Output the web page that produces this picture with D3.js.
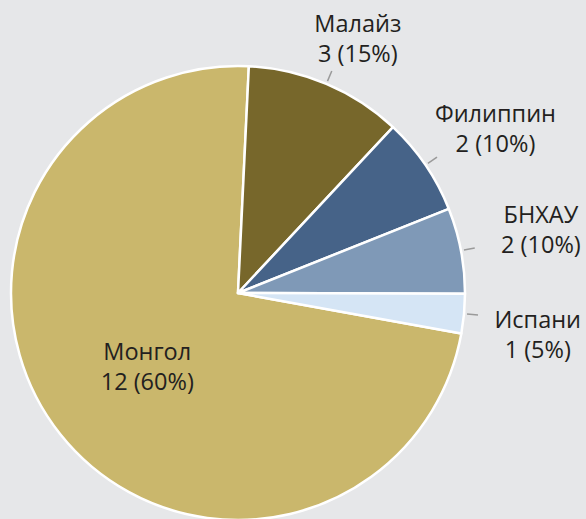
<!DOCTYPE html>
<html>
<head>
<meta charset="utf-8">
<script src="https://cdn.jsdelivr.net/npm/d3@7"></script>
<style>
  html, body { margin: 0; padding: 0; background: #e6e7e9; }
  svg { display: block; }
  text { font-family: "Open Sans", "Noto Sans", sans-serif; fill: #231f20; }
</style>
</head>
<body>
<svg id="chart"></svg>
<script>
// chart values
const countries = ["Монгол", "Малайз", "Филиппин", "БНХАУ", "Испани"];
const counts = [12, 3, 2, 2, 1];
const percents = [60, 15, 10, 10, 5];
// slice sizes as drawn in the source picture (they do not follow the counts)
const shares = [72.9, 11.2, 7.0, 6.1, 2.8];
const colors = ["#cab76c", "#77672b", "#466388", "#7f99b7", "#d5e5f5"];

let width = 586;
let height = 519;
let cx = 238, cy = 293, radius = 227;
let fontSize = 23.5;

// small layout tweaks for label blocks (x, baseline of first line)
let nudge = {
  "Монгол": [4, -8],
  "Малайз": [7, 6],
  "Филиппин": [18, -7],
  "БНХАУ": [18, -16],
  "Испани": [11, 8]
};

let data = countries.map(function(c, i) {
  return { name: c, count: counts[i], pct: percents[i], share: shares[i], color: colors[i] };
});

let svg = d3.select("#chart")
  .attr("width", width)
  .attr("height", height);

let g = svg.append("g")
  .attr("transform", "translate(" + cx + "," + cy + ")");

let deg = Math.PI / 180;
let start = 100.3 * deg;

let pie = d3.pie()
  .sort(null)
  .value(function(d) { return d.share; })
  .startAngle(start)
  .endAngle(start + 2 * Math.PI);

let arc = d3.arc().innerRadius(0).outerRadius(radius);
let arcs = pie(data);

g.selectAll("path.slice")
  .data(arcs)
  .enter().append("path")
  .attr("class", "slice")
  .attr("d", arc)
  .attr("fill", function(d) { return d.data.color; })
  .attr("stroke", "#fff")
  .attr("stroke-width", 2.5)
  .attr("stroke-linejoin", "round");

function polar(a, r) {
  return [Math.sin(a) * r, -Math.cos(a) * r];
}
function mid(d) { return (d.startAngle + d.endAngle) / 2; }

let outside = arcs.filter(function(d) { return d.data.name !== "Монгол"; });

// leader lines
g.selectAll("line.leader")
  .data(outside)
  .enter().append("line")
  .attr("class", "leader")
  .attr("x1", function(d) { return polar(mid(d), radius + 3)[0]; })
  .attr("y1", function(d) { return polar(mid(d), radius + 3)[1]; })
  .attr("x2", function(d) { return polar(mid(d), radius + 14)[0]; })
  .attr("y2", function(d) { return polar(mid(d), radius + 14)[1]; })
  .attr("stroke", "#9a9a9a")
  .attr("stroke-width", 1.5);

// labels
let labels = g.selectAll("text.label")
  .data(arcs)
  .enter().append("text")
  .attr("class", "label")
  .attr("text-anchor", "middle")
  .attr("font-size", fontSize)
  .attr("transform", function(d) {
    let r = d.data.name === "Монгол" ? 121 : 290;
    let p = polar(mid(d), r);
    let n = nudge[d.data.name];
    return "translate(" + (p[0] + n[0]) + "," + (p[1] + n[1]) + ")";
  });

labels.append("tspan")
  .attr("x", 0)
  .attr("y", 0)
  .text(function(d) { return d.data.name; });

labels.append("tspan")
  .attr("x", 0)
  .attr("y", 30)
  .text(function(d) { return d.data.count + " (" + d.data.pct + "%)"; });
</script>
</body>
</html>
